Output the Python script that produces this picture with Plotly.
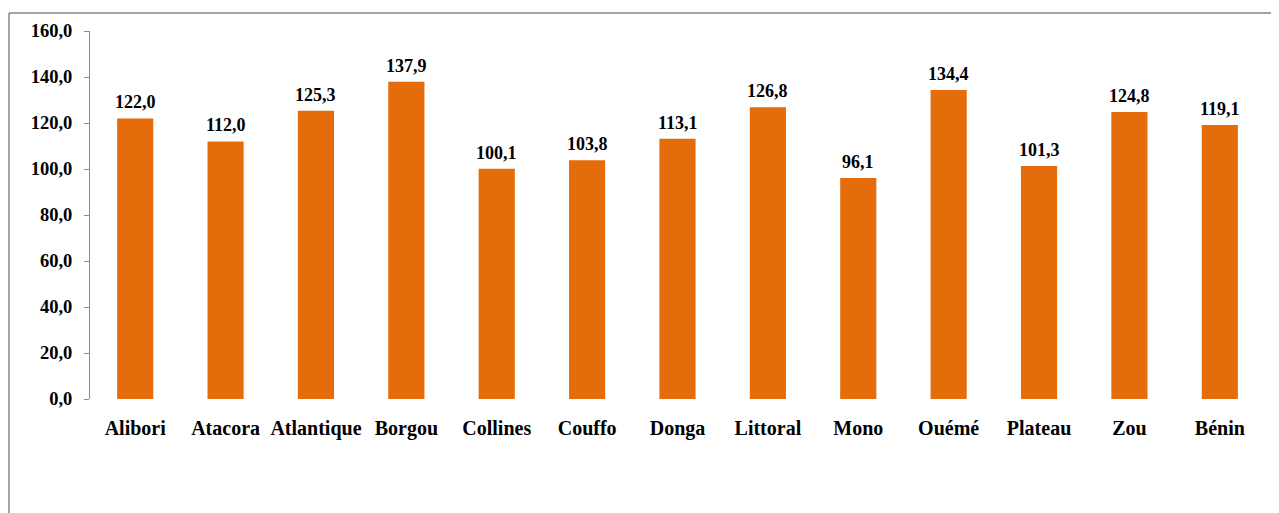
import plotly.graph_objects as go

categories = ["Alibori", "Atacora", "Atlantique", "Borgou", "Collines", "Couffo", "Donga",
              "Littoral", "Mono", "Ouémé", "Plateau", "Zou", "Bénin"]
values = [122.0, 112.0, 125.3, 137.9, 100.1, 103.8, 113.1, 126.8, 96.1, 134.4, 101.3, 124.8, 119.1]
y_ticks = [0, 20, 40, 60, 80, 100, 120, 140, 160]

# page body has an 8px margin; figure sized so the page does not overflow
W, H = 1271, 505
ml, mr, mt, mb = 82, 14, 23, 114
pw, ph = W - ml - mr, H - mt - mb

fig = go.Figure(go.Bar(
    x=categories, y=values,
    marker=dict(color="#E46C0A", line=dict(width=0)),
    width=0.4,
))

for c, v in zip(categories, values):
    fig.add_annotation(x=c, y=v, text=f"{v:.1f}".replace(".", ","), showarrow=False,
                       yanchor="middle", yshift=16,
                       font=dict(family="Liberation Serif", size=18, color="black", weight="bold"))

fx0 = (1 - ml) / pw
fx1 = (W + 20 - ml) / pw
fy0 = (H - mb - 5) / ph
fig.update_layout(
    width=W, height=H,
    margin=dict(l=ml, r=mr, t=mt, b=mb),
    paper_bgcolor="white", plot_bgcolor="white",
    separators=", ",
    showlegend=False,
    font=dict(family="Liberation Serif", size=16, color="black"),
    xaxis=dict(range=[-0.5, 12.5], showline=False, ticks="",
               tickfont=dict(family="Liberation Serif", size=20, color="black", weight="bold"),
               ticklabelstandoff=15, showgrid=False, zeroline=False),
    yaxis=dict(range=[0, 160], tickvals=y_ticks, tickformat=".1f",
               showline=True, linecolor="#8c8c8c", linewidth=1,
               ticks="outside", ticklen=5, tickcolor="#8c8c8c",
               tickfont=dict(family="Liberation Serif", size=18.5, color="black", weight="bold"),
               ticklabelstandoff=8, showgrid=False, zeroline=False),
    shapes=[
        dict(type="line", xref="paper", yref="paper", x0=fx0, x1=fx1, y0=fy0, y1=fy0,
             line=dict(color="#868686", width=1.5)),
        dict(type="line", xref="paper", yref="paper", x0=fx0, x1=fx0, y0=fy0, y1=-0.5,
             line=dict(color="#868686", width=1.5)),
    ],
)
fig.write_html("out.html")
